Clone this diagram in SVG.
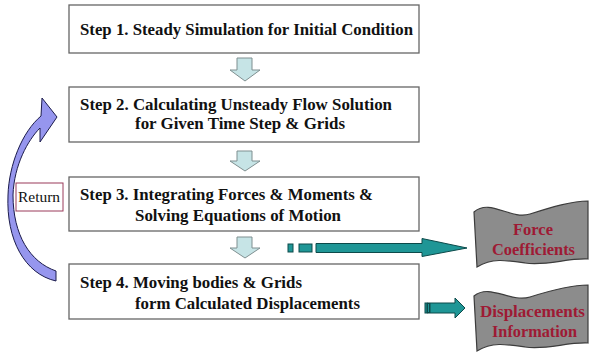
<svg xmlns="http://www.w3.org/2000/svg" width="589" height="353" viewBox="0 0 589 353">
<style>
.box{fill:#fff;stroke:#666;stroke-width:1.3}
.st{font-family:"Liberation Serif","DejaVu Serif",serif;font-weight:bold;font-size:16.5px;fill:#111}
.down{fill:#c6e4e6;stroke:#7f8f90;stroke-width:1}
.teal{fill:#1f9696;stroke:#0c4a4a;stroke-width:1}
.wave{fill:#8c8c8c;stroke:#3c3c3c;stroke-width:1.2}
.wt{font-family:"Liberation Serif","DejaVu Serif",serif;font-weight:bold;font-size:17px;fill:#9e1a34}
.ret{fill:#fff;stroke:#9a3a5a;stroke-width:1}
.rt{font-family:"Liberation Serif","DejaVu Serif",serif;font-size:14px;fill:#111}
</style>
<g id="step1"><rect class="box" x="69" y="5" width="350" height="48"/><text class="st" x="80" y="35" textLength="333" lengthAdjust="spacingAndGlyphs">Step 1. Steady Simulation for Initial Condition</text></g>
<g id="step2"><rect class="box" x="69" y="87" width="350" height="55"/><text class="st" x="80" y="110" textLength="312" lengthAdjust="spacingAndGlyphs">Step 2. Calculating Unsteady Flow Solution</text><text class="st" x="135" y="129" textLength="210" lengthAdjust="spacingAndGlyphs">for Given Time Step &amp; Grids</text></g>
<g id="step3"><rect class="box" x="69" y="177" width="350" height="54"/><text class="st" x="80" y="200" textLength="293" lengthAdjust="spacingAndGlyphs">Step 3. Integrating Forces &amp; Moments &amp;</text><text class="st" x="135" y="221" textLength="206" lengthAdjust="spacingAndGlyphs">Solving Equations of Motion</text></g>
<g id="step4"><rect class="box" x="69" y="264" width="350" height="55"/><text class="st" x="80" y="288" textLength="222" lengthAdjust="spacingAndGlyphs">Step 4. Moving bodies &amp; Grids</text><text class="st" x="135" y="309" textLength="225" lengthAdjust="spacingAndGlyphs">form Calculated Displacements</text></g>
<g id="return"><rect class="ret" x="16" y="183" width="47" height="28"/><text class="rt" x="18" y="202" textLength="42" lengthAdjust="spacingAndGlyphs">Return</text></g>
<g id="force"><path class="wave" d="M474,212 C490,198 510,220 530,214 C552,207 572,201 588,201 L588,259 C566,258 548,266 525,263 C505,260 492,258 477,267 Z"/><text class="wt" x="513" y="235" textLength="40" lengthAdjust="spacingAndGlyphs">Force</text><text class="wt" x="492" y="255" textLength="83" lengthAdjust="spacingAndGlyphs">Coefficients</text></g>
<g id="displacements"><path class="wave" d="M474,296 C490,283 510,303 530,297 C552,290 572,285 588,285 L588,343 C566,342 548,350 525,347 C505,344 492,342 477,351 Z"/><text class="wt" x="480" y="317" textLength="105" lengthAdjust="spacingAndGlyphs">Displacements</text><text class="wt" x="492" y="337" textLength="85" lengthAdjust="spacingAndGlyphs">Information</text></g>
<g id="connectors">
<path class="down" d="M237,58 H252 V70 H260 L245,81 L230,70 H237 Z"/>
<path class="down" d="M237,151 H252 V161 H260 L245,171 L230,161 H237 Z"/>
<path class="down" d="M237,237 H252 V248 H260 L245,258 L230,248 H237 Z"/>
<path d="M56,281 C25,274 6,240 8,195 C9,165 22,132 41,116 L42,98 L57,117 L40,142 L40,128 C28,140 14,165 13,195 C13,235 30,262 56,271 Z" fill="#9696ee" stroke="#1c1c4c" stroke-width="1"/>
<rect class="teal" x="288" y="244" width="5" height="8"/>
<rect class="teal" x="299" y="244" width="13" height="8"/>
<path class="teal" d="M316,243.5 H422 V238.5 L467,248 L422,256.5 V252.5 H316 Z"/>
<path class="teal" d="M430,303 H455 V298 L465,308 L455,318 V313 H430 Z"/>
<rect class="teal" x="425" y="303" width="2" height="10"/>
<rect class="teal" x="427.5" y="303" width="2" height="10"/>
</g>
</svg>
